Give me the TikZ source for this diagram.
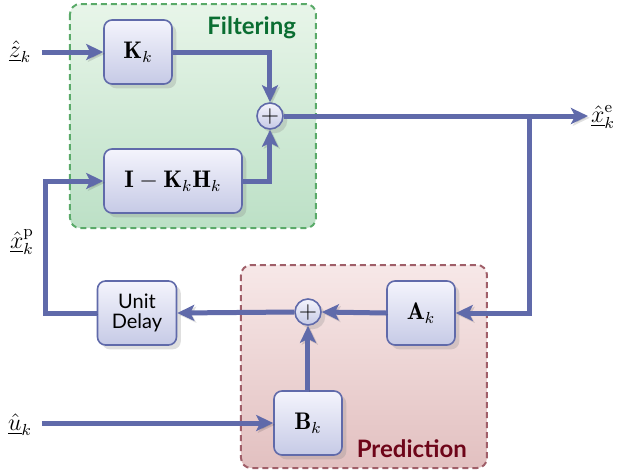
\documentclass[tikz,border=0pt]{standalone}
\usepackage{fontspec}
\setsansfont{Lato}
\usetikzlibrary{arrows.meta,shadows}

\definecolor{sigcol}{RGB}{96,106,170}
\definecolor{boxtop}{RGB}{244,244,252}
\definecolor{boxbot}{RGB}{198,202,230}
\definecolor{filtline}{RGB}{90,170,105}
\definecolor{filttop}{RGB}{232,245,233}
\definecolor{filtbot}{RGB}{188,224,198}
\definecolor{filttext}{RGB}{10,110,50}
\definecolor{predline}{RGB}{160,95,105}
\definecolor{predtop}{RGB}{247,232,232}
\definecolor{predbot}{RGB}{226,192,192}
\definecolor{predtext}{RGB}{110,5,25}

\tikzset{
  block/.style={draw=sigcol, line width=0.8pt, rounded corners=4pt,
    top color=boxtop, bottom color=boxbot, drop shadow={opacity=0.25},
    minimum width=34pt, minimum height=32pt, inner sep=2pt, align=center, font=\large},
  adder/.style={circle, draw=sigcol, line width=0.8pt, top color=boxtop,
    bottom color=boxbot, drop shadow={opacity=0.25}, minimum size=13pt, inner sep=0pt,
    font=\large},
  sig/.style={draw=sigcol, line width=2.5pt,
    preaction={draw=black, opacity=0.12, transform canvas={shift={(0.9pt,-0.9pt)}}},
    -{Stealth[length=8.5pt,width=8pt,inset=2pt]}},
  group/.style={line width=1pt, dash pattern=on 3pt off 2pt, rounded corners=5pt},
  siglab/.style={font=\large},
}

\begin{document}
\begin{tikzpicture}[x=0.5pt,y=-0.5pt]
  \useasboundingbox (0,0) rectangle (618,473);
  % the two groups
  \draw[group, draw=filtline, top color=filttop, bottom color=filtbot] (70,4) rectangle (316,228);
  \draw[group, draw=predline, top color=predtop, bottom color=predbot] (241,265) rectangle (487,468);
  \node[anchor=east, text=filttext, font=\sffamily\bfseries\large] (filtlab) at (303,28) {Filtering};
  \node[anchor=east, text=predtext, font=\sffamily\bfseries\large] (predlab) at (474,449) {Prediction};

  % blocks
  \node[block] (Kk) at (138,52) {$\mathbf{K}_k$};
  \node[block, minimum width=69pt] (IKH) at (173,181) {$\mathbf{I}-\mathbf{K}_k\mathbf{H}_k$};
  \node[adder] (sumf) at (270,116) {$+$};
  \node[block] (Ak) at (421,313) {$\mathbf{A}_k$};
  \node[adder] (sump) at (308,312) {$+$};
  \node[block] (Bk) at (308,423) {$\mathbf{B}_k$};
  \node[block, minimum width=39.5pt, font=\sffamily] (delay) at (137,313) {Unit\\[-2pt]Delay};

  % signals
  \node[siglab] (zlab) at (20,52) {$\underline{\hat{z}}_k$};
  \node[siglab] (ulab) at (20,425) {$\underline{\hat{u}}_k$};
  \node[siglab] (xelab) at (603,117) {$\underline{\hat{x}}_k^{\mathrm{e}}$};
  \node[siglab] (xplab) at (22,242) {$\underline{\hat{x}}_k^{\mathrm{p}}$};
  \coordinate (zin) at (42,52);
  \coordinate (uin) at (42,423);
  \coordinate (xeout) at (588,116);
  \coordinate (split) at (530,116);
  \coordinate (fb) at (46,313);

  \draw[sig] (zin) -- (Kk);
  \draw[sig] (Kk.east) -| (sumf.north);
  \draw[sig] (IKH.east) -| (sumf.south);
  \draw[sig] (sumf.east) -- (xeout);
  \draw[sig] (split) |- (Ak.east);
  \draw[sig] (Ak.west) -- (sump.east);
  \draw[sig] (Bk.north) -- (sump.south);
  \draw[sig] (uin) -- (Bk.west);
  \draw[sig] (sump.west) -- (delay.east);
  \draw[sig] (delay.west) -- (fb) |- (IKH.west);
\end{tikzpicture}
\end{document}
